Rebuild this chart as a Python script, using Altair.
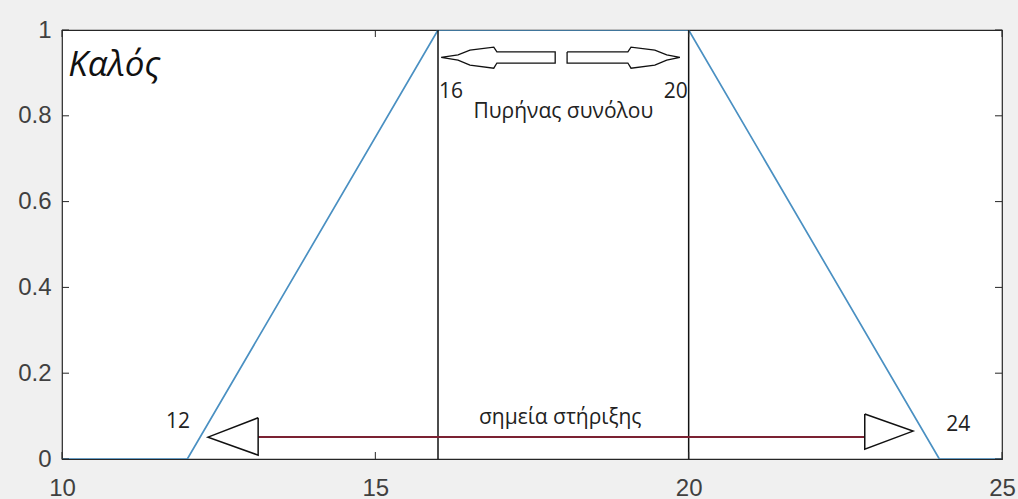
import altair as alt
import pandas as pd

# Trapezoidal membership function "Καλός"
mf_x = [10, 12, 16, 20, 24, 25]
mf_y = [0, 0, 1, 1, 0, 0]

# Core (πυρήνας) and support (στήριξη) limits
core = [16, 20]
support = [12, 24]

# Hollow block arrows above the core (x, y in data units)
core_left_x = [16.05, 16.32, 16.51, 16.89, 16.94, 17.87, 17.87, 16.94, 16.89, 16.51, 16.32, 16.05]
core_left_y = [0.936, 0.942, 0.953, 0.960, 0.949, 0.949, 0.923, 0.923, 0.911, 0.918, 0.930, 0.936]
core_right_x = [18.06, 19.03, 19.08, 19.46, 19.65, 19.86, 19.65, 19.46, 19.08, 19.03, 18.06, 18.06]
core_right_y = [0.949, 0.949, 0.960, 0.953, 0.942, 0.936, 0.930, 0.918, 0.911, 0.923, 0.923, 0.949]

# Open triangular heads on the support arrow
sup_left_x = [13.13, 12.33, 13.13, 13.13]
sup_left_y = [0.096, 0.051, 0.009, 0.096]
sup_right_x = [22.81, 23.58, 22.81, 22.81]
sup_right_y = [0.105, 0.065, 0.023, 0.105]
sup_shaft_x = [13.13, 22.81]
sup_shaft_y = [0.051, 0.051]

x_ticks = [10, 15, 20, 25]
y_ticks = [0, 0.2, 0.4, 0.6, 0.8, 1]

W, H = 940, 429
xs = alt.Scale(domain=[10, 25], nice=False, zero=False)
ys = alt.Scale(domain=[0, 1], nice=False, zero=False)

x_axis = alt.Axis(values=x_ticks, ticks=False, domain=False, grid=False, labelFont="Liberation Sans",
                  labelFontSize=24, labelColor="#404040", labelPadding=17, title=None, labelFlush=False,
                  format="d")
y_axis = alt.Axis(values=y_ticks, ticks=False, domain=False, grid=False, labelFont="Liberation Sans",
                  labelFontSize=24, labelColor="#404040", labelPadding=11, title=None, format=".1~f")

mf_df = pd.DataFrame({"x": mf_x, "y": mf_y, "o": range(len(mf_x))})
base = alt.Chart(mf_df).mark_line(color="#4a90c2", strokeWidth=1.7, clip=True).encode(
    x=alt.X("x:Q", scale=xs, axis=x_axis),
    y=alt.Y("y:Q", scale=ys, axis=y_axis),
    order="o:Q",
)

core_df = pd.DataFrame({"x": core, "y0": [0, 0], "y1": [1, 1]})
core_lines = alt.Chart(core_df).mark_rule(color="#111111", strokeWidth=1.5).encode(
    x=alt.X("x:Q", scale=xs), y=alt.Y("y0:Q", scale=ys), y2="y1:Q"
)


def outline(xv, yv, color, width, name):
    df = pd.DataFrame({"x": xv, "y": yv, "o": range(len(xv)), "g": name})
    return alt.Chart(df).mark_line(color=color, strokeWidth=width, strokeJoin="miter").encode(
        x=alt.X("x:Q", scale=xs), y=alt.Y("y:Q", scale=ys), order="o:Q"
    )


arrows = [
    outline(core_left_x, core_left_y, "#111111", 1.3, "cl"),
    outline(core_right_x, core_right_y, "#111111", 1.3, "cr"),
    outline(sup_shaft_x, sup_shaft_y, "#7b2232", 2.0, "ss"),
    outline(sup_left_x, sup_left_y, "#111111", 1.5, "sl"),
    outline(sup_right_x, sup_right_y, "#111111", 1.5, "sr"),
]

# Inward tick marks on all four sides of the box
xt = pd.DataFrame({"x": x_ticks})
yt = pd.DataFrame({"y": y_ticks})
tick_color = "#262626"
ticks = [
    alt.Chart(xt).mark_rule(color=tick_color, strokeWidth=1).encode(
        x=alt.X("x:Q", scale=xs), y=alt.value(H), y2=alt.value(H - 7)),
    alt.Chart(xt).mark_rule(color=tick_color, strokeWidth=1).encode(
        x=alt.X("x:Q", scale=xs), y=alt.value(0), y2=alt.value(7)),
    alt.Chart(yt).mark_rule(color=tick_color, strokeWidth=1).encode(
        y=alt.Y("y:Q", scale=ys), x=alt.value(0), x2=alt.value(7)),
    alt.Chart(yt).mark_rule(color=tick_color, strokeWidth=1).encode(
        y=alt.Y("y:Q", scale=ys), x=alt.value(W), x2=alt.value(W - 7)),
]

# Text labels
labels_df = pd.DataFrame({
    "x": [core[0], core[1], 18.0, 11.85, 24.3, 17.95],
    "y": [0.855, 0.855, 0.81, 0.086, 0.079, 0.096],
    "t": ["16", "20", "Πυρήνας συνόλου", "12", "24", "σημεία στήριξης"],
    "a": ["left", "right", "center", "center", "center", "center"],
    "dx": [1, -1, 0, 0, 0, 0],
})
texts = []
for _, r in labels_df.iterrows():
    texts.append(
        alt.Chart(pd.DataFrame([r])).mark_text(
            font="Open Sans", fontSize=21, color="#222222", align=r["a"], baseline="middle", dx=int(r["dx"])
        ).encode(x=alt.X("x:Q", scale=xs), y=alt.Y("y:Q", scale=ys), text="t:N")
    )

title_df = pd.DataFrame({"x": [10.1], "y": [0.918], "t": ["Καλός"]})
title_txt = alt.Chart(title_df).mark_text(
    font="Open Sans", fontSize=35, fontStyle="italic", color="#111111", align="left", baseline="middle"
).encode(x=alt.X("x:Q", scale=xs), y=alt.Y("y:Q", scale=ys), text="t:N")

chart = alt.layer(base, core_lines, *arrows, *ticks, *texts, title_txt).properties(
    width=W, height=H,
    background="#f0f0f0",
    padding={"left": 62, "top": 30, "right": 16, "bottom": 40},
    autosize=alt.AutoSizeParams(type="none"),
).configure_view(
    fill="white", stroke="#262626", strokeWidth=1.2
)

chart.save("out.html", embed_options={"renderer": "svg", "actions": False})
